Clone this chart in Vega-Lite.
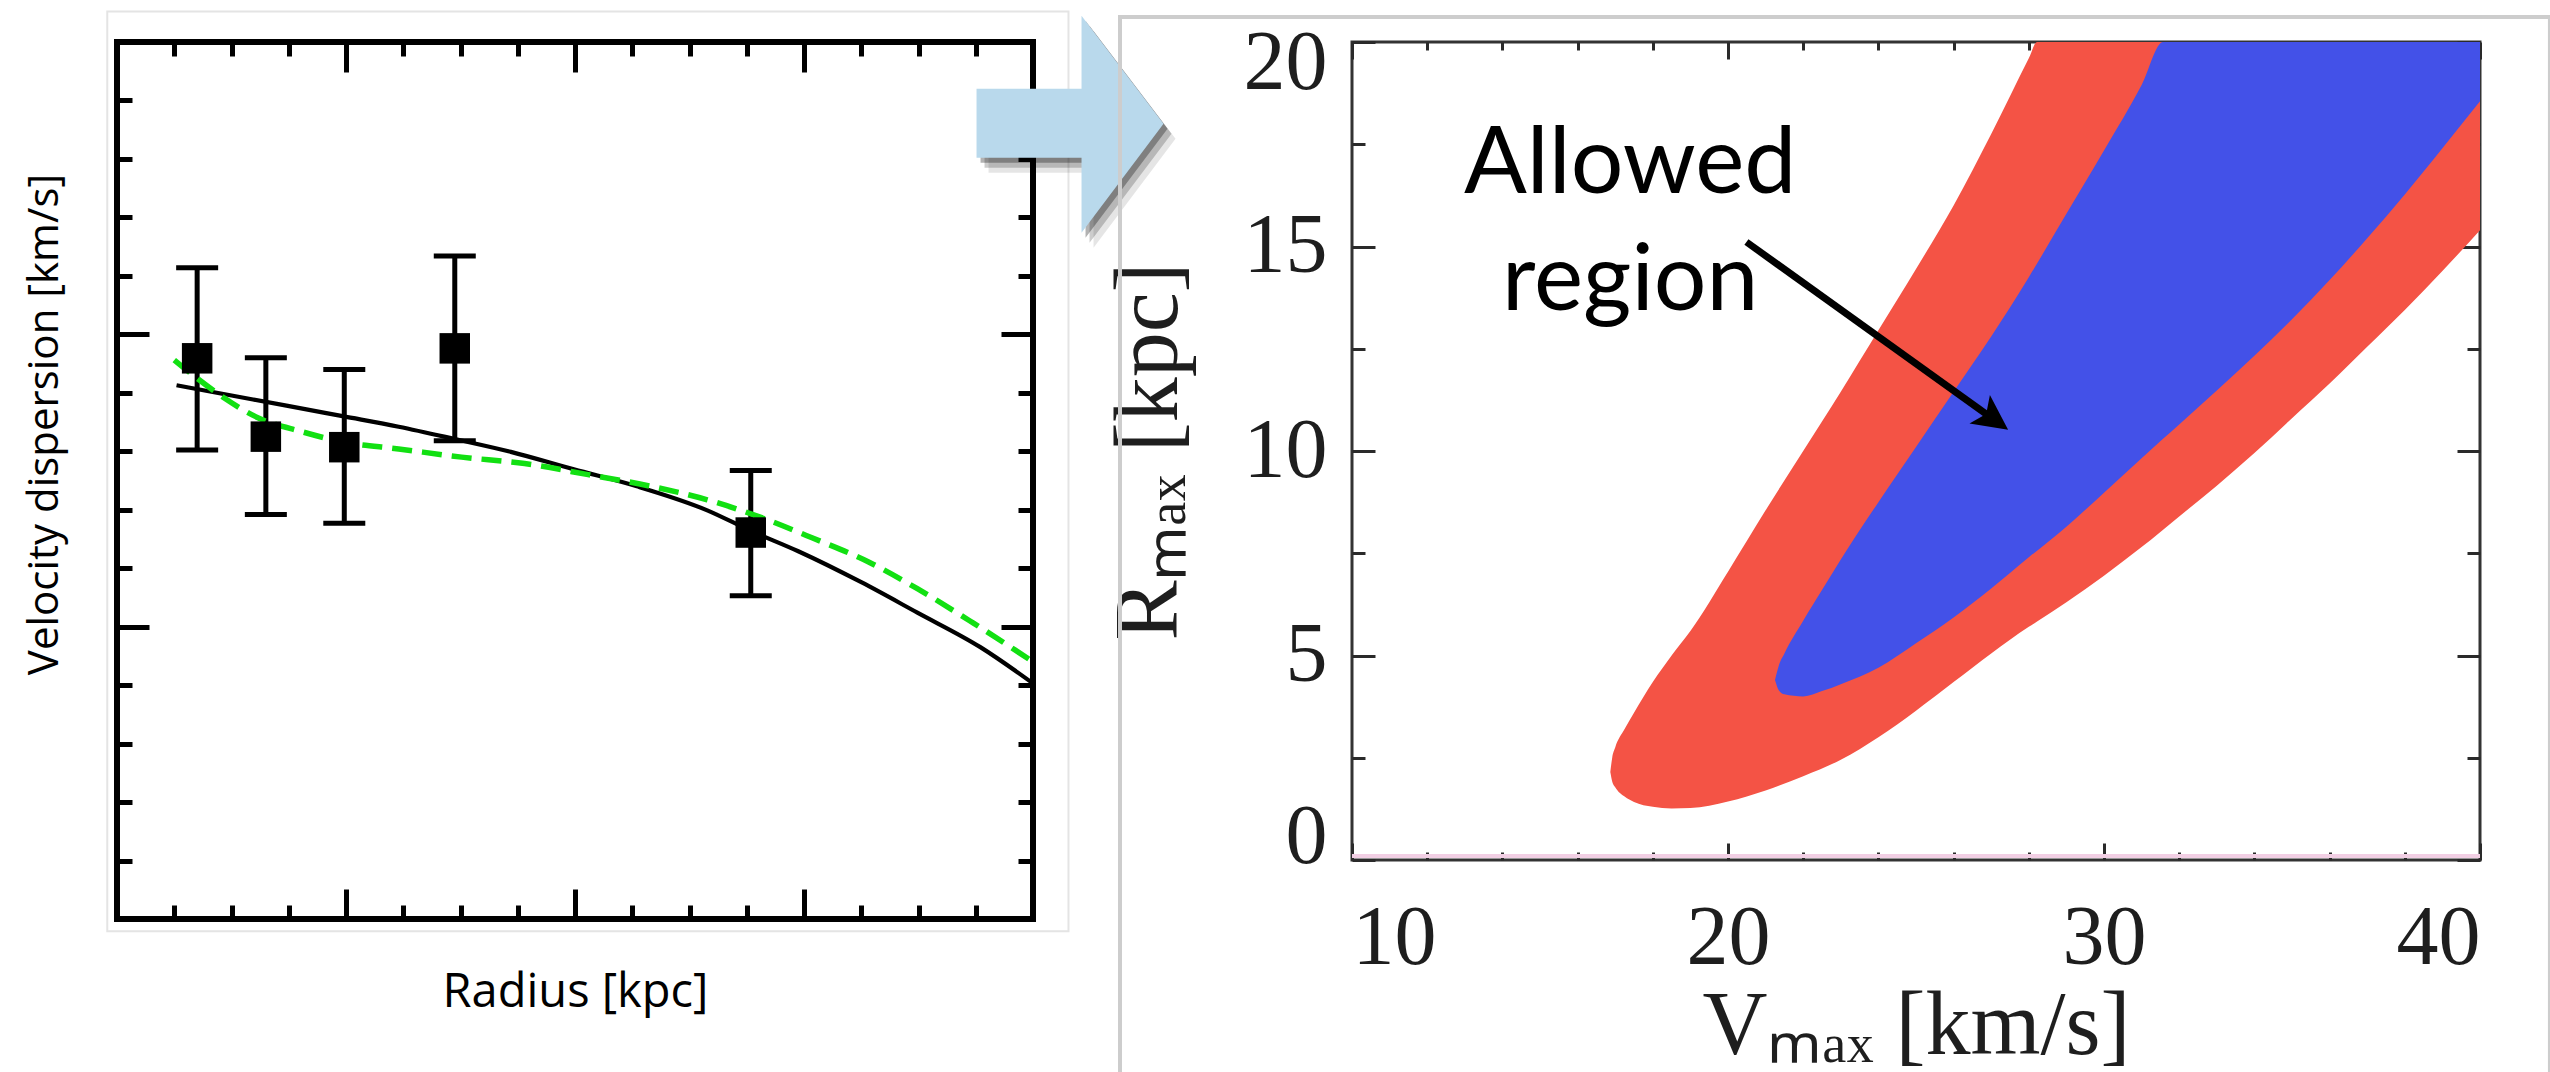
{
  "$schema": "https://vega.github.io/schema/vega-lite/v6.json",
  "background": "white",
  "padding": {"left": 20, "top": 7, "right": 0, "bottom": 0},
  "bounds": "flush",
  "spacing": 319,
  "config": {
    "view": {"stroke": null},
    "axis": {"grid": false, "domain": false, "labelOverlap": false}
  },
  "datasets": {
    "pts": [
      {"r": 1.40, "v": 9.59, "lo": 8.02, "hi": 11.14},
      {"r": 2.60, "v": 8.25, "lo": 6.92, "hi": 9.60},
      {"r": 3.97, "v": 8.07, "lo": 6.77, "hi": 9.40},
      {"r": 5.90, "v": 9.76, "lo": 8.18, "hi": 11.34},
      {"r": 11.07, "v": 6.61, "lo": 5.53, "hi": 7.67}
    ],
    "fit": [
      {"r": 1.04, "v": 9.13}, {"r": 1.86, "v": 8.98}, {"r": 2.96, "v": 8.78}, {"r": 3.94, "v": 8.60},
      {"r": 4.92, "v": 8.42}, {"r": 5.90, "v": 8.21}, {"r": 6.88, "v": 7.99}, {"r": 7.98, "v": 7.69},
      {"r": 9.08, "v": 7.40}, {"r": 10.31, "v": 6.99}, {"r": 11.07, "v": 6.64}, {"r": 11.90, "v": 6.29},
      {"r": 13.00, "v": 5.76}, {"r": 13.98, "v": 5.24}, {"r": 15.08, "v": 4.65}, {"r": 16.0, "v": 4.03}
    ],
    "alt": [
      {"r": 1.00, "v": 9.56}, {"r": 1.37, "v": 9.27}, {"r": 1.86, "v": 8.92}, {"r": 2.47, "v": 8.57},
      {"r": 3.21, "v": 8.34}, {"r": 3.94, "v": 8.16}, {"r": 4.92, "v": 8.04}, {"r": 6.02, "v": 7.90},
      {"r": 7.12, "v": 7.79}, {"r": 8.23, "v": 7.60}, {"r": 9.33, "v": 7.40}, {"r": 10.31, "v": 7.17},
      {"r": 11.16, "v": 6.90}, {"r": 12.14, "v": 6.52}, {"r": 13.12, "v": 6.11}, {"r": 13.98, "v": 5.65},
      {"r": 14.96, "v": 5.06}, {"r": 16.0, "v": 4.40}
    ],
    "leftframe": [{"x1": -0.17, "x2": 16.62, "y1": -0.21, "y2": 15.52}],
    "bigarrow": [{"X": 18.28, "Y": 13.60}],
    "outer": [
      {"V": 16.87, "lo": 2.15, "hi": 2.15},
      {"V": 16.92, "lo": 1.92, "hi": 2.5},
      {"V": 17.0, "lo": 1.78, "hi": 2.75},
      {"V": 17.25, "lo": 1.55, "hi": 3.2},
      {"V": 17.5, "lo": 1.42, "hi": 3.6},
      {"V": 18.0, "lo": 1.3, "hi": 4.35},
      {"V": 18.5, "lo": 1.26, "hi": 5.0},
      {"V": 19.0, "lo": 1.27, "hi": 5.6},
      {"V": 20.0, "lo": 1.43, "hi": 7.05},
      {"V": 21.0, "lo": 1.7, "hi": 8.55},
      {"V": 22.0, "lo": 2.05, "hi": 10.0},
      {"V": 23.0, "lo": 2.45, "hi": 11.45},
      {"V": 24.0, "lo": 3.0, "hi": 12.95},
      {"V": 25.0, "lo": 3.65, "hi": 14.45},
      {"V": 26.0, "lo": 4.35, "hi": 16.0},
      {"V": 27.0, "lo": 5.05, "hi": 17.75},
      {"V": 28.0, "lo": 5.7, "hi": 19.6},
      {"V": 28.22, "lo": 5.83, "hi": 20},
      {"V": 29.0, "lo": 6.3, "hi": 20},
      {"V": 30.0, "lo": 6.95, "hi": 20},
      {"V": 31.0, "lo": 7.65, "hi": 20},
      {"V": 32.0, "lo": 8.4, "hi": 20},
      {"V": 33.0, "lo": 9.15, "hi": 20},
      {"V": 34.0, "lo": 9.95, "hi": 20},
      {"V": 35.0, "lo": 10.8, "hi": 20},
      {"V": 36.0, "lo": 11.65, "hi": 20},
      {"V": 37.0, "lo": 12.55, "hi": 20},
      {"V": 38.0, "lo": 13.45, "hi": 20},
      {"V": 39.0, "lo": 14.4, "hi": 20},
      {"V": 40.0, "lo": 15.4, "hi": 20}
    ],
    "inner": [
      {"V": 21.25, "lo": 4.4, "hi": 4.4},
      {"V": 21.35, "lo": 4.15, "hi": 4.75},
      {"V": 21.5, "lo": 4.05, "hi": 5.05},
      {"V": 22.0, "lo": 4.0, "hi": 5.85},
      {"V": 22.5, "lo": 4.13, "hi": 6.6},
      {"V": 23.0, "lo": 4.3, "hi": 7.35},
      {"V": 24.0, "lo": 4.7, "hi": 8.75},
      {"V": 25.0, "lo": 5.3, "hi": 10.1},
      {"V": 26.0, "lo": 5.93, "hi": 11.45},
      {"V": 27.0, "lo": 6.64, "hi": 12.8},
      {"V": 28.0, "lo": 7.4, "hi": 14.25},
      {"V": 29.0, "lo": 8.15, "hi": 15.8},
      {"V": 30.0, "lo": 8.98, "hi": 17.35},
      {"V": 31.0, "lo": 9.82, "hi": 18.95},
      {"V": 31.57, "lo": 10.3, "hi": 20},
      {"V": 32.0, "lo": 10.65, "hi": 20},
      {"V": 33.0, "lo": 11.48, "hi": 20},
      {"V": 34.0, "lo": 12.33, "hi": 20},
      {"V": 35.0, "lo": 13.22, "hi": 20},
      {"V": 36.0, "lo": 14.18, "hi": 20},
      {"V": 37.0, "lo": 15.2, "hi": 20},
      {"V": 38.0, "lo": 16.27, "hi": 20},
      {"V": 39.0, "lo": 17.4, "hi": 20},
      {"V": 40.0, "lo": 18.55, "hi": 20}
    ],
    "card": [{"a": 3.83, "b": 41.86, "c": -6, "d": 20.61}],
    "label": [{"V": 17.4, "R": 16.31, "t": "Allowed\nregion"}],
    "pointer": [{"V": 20.49, "R": 15.11, "V2": 27.13, "R2": 10.73}],
    "pointerhead": [{"V": 27.45, "R": 10.52}],
    "zeroline": [{"R": 0.1}]
  },
  "hconcat": [
    {
      "width": 916,
      "height": 877,
      "view": {"stroke": "#000000", "strokeWidth": 6},
      "resolve": {"axis": {"x": "independent", "y": "independent"}},
      "layer": [
        {
          "data": {"name": "pts"},
          "mark": {"type": "rule", "strokeWidth": 5, "color": "#000000"},
          "encoding": {
            "x": {"field": "r", "type": "quantitative",
              "scale": {"domain": [0, 16], "nice": false, "zero": false},
              "axis": {"orient": "bottom", "values": [0,1,2,3,4,5,6,7,8,9,10,11,12,13,14,15,16],
                "labels": false, "tickColor": "#000000", "tickWidth": 5,
                "tickSize": {"condition": {"test": "datum.value % 4 === 0", "value": -30}, "value": -14},
                "title": "Radius [kpc]", "titleFont": "Open Sans", "titleFontSize": 47,
                "titleFontWeight": "normal", "titleColor": "#000000", "titlePadding": 48}},
            "y": {"field": "lo", "type": "quantitative",
              "scale": {"domain": [0, 15], "nice": false, "zero": false},
              "axis": {"orient": "left", "values": [0,1,2,3,4,5,6,7,8,9,10,11,12,13,14,15],
                "labels": false, "tickColor": "#000000", "tickWidth": 5,
                "tickSize": {"condition": {"test": "datum.value % 5 === 0", "value": -32}, "value": -15},
                "title": "Velocity dispersion [km/s]", "titleFont": "Open Sans", "titleFontSize": 42,
                "titleFontWeight": "normal", "titleColor": "#000000", "titlePadding": 48, "titleY": 382}},
            "y2": {"field": "hi"}
          }
        },
        {
          "data": {"name": "pts"},
          "mark": {"type": "tick", "orient": "horizontal", "size": 42, "thickness": 5, "color": "#000000", "opacity": 1},
          "encoding": {
            "x": {"field": "r", "type": "quantitative",
              "scale": {"domain": [0, 16], "nice": false, "zero": false},
              "axis": {"orient": "top", "values": [0,1,2,3,4,5,6,7,8,9,10,11,12,13,14,15,16],
                "labels": false, "tickColor": "#000000", "tickWidth": 5,
                "tickSize": {"condition": {"test": "datum.value % 4 === 0", "value": -30}, "value": -14},
                "title": null}},
            "y": {"field": "hi", "type": "quantitative",
              "scale": {"domain": [0, 15], "nice": false, "zero": false},
              "axis": {"orient": "right", "values": [0,1,2,3,4,5,6,7,8,9,10,11,12,13,14,15],
                "labels": false, "tickColor": "#000000", "tickWidth": 5,
                "tickSize": {"condition": {"test": "datum.value % 5 === 0", "value": -32}, "value": -15},
                "title": null}}
          }
        },
        {
          "data": {"name": "pts"},
          "mark": {"type": "tick", "orient": "horizontal", "size": 42, "thickness": 5, "color": "#000000", "opacity": 1},
          "encoding": {
            "x": {"field": "r", "type": "quantitative", "scale": {"domain": [0, 16], "nice": false, "zero": false}, "axis": null},
            "y": {"field": "lo", "type": "quantitative", "scale": {"domain": [0, 15], "nice": false, "zero": false}, "axis": null}
          }
        },
        {
          "data": {"name": "fit"},
          "mark": {"type": "line", "color": "#000000", "strokeWidth": 4.2, "interpolate": "monotone"},
          "encoding": {
            "x": {"field": "r", "type": "quantitative", "scale": {"domain": [0, 16], "nice": false, "zero": false}, "axis": null},
            "y": {"field": "v", "type": "quantitative", "scale": {"domain": [0, 15], "nice": false, "zero": false}, "axis": null}
          }
        },
        {
          "data": {"name": "alt"},
          "mark": {"type": "line", "color": "#12e012", "strokeWidth": 5.5, "strokeDash": [20, 10], "interpolate": "monotone"},
          "encoding": {
            "x": {"field": "r", "type": "quantitative", "scale": {"domain": [0, 16], "nice": false, "zero": false}, "axis": null},
            "y": {"field": "v", "type": "quantitative", "scale": {"domain": [0, 15], "nice": false, "zero": false}, "axis": null}
          }
        },
        {
          "data": {"name": "pts"},
          "mark": {"type": "point", "shape": "square", "filled": true, "size": 930, "color": "#000000", "opacity": 1},
          "encoding": {
            "x": {"field": "r", "type": "quantitative", "scale": {"domain": [0, 16], "nice": false, "zero": false}, "axis": null},
            "y": {"field": "v", "type": "quantitative", "scale": {"domain": [0, 15], "nice": false, "zero": false}, "axis": null}
          }
        },
        {
          "data": {"name": "leftframe"},
          "mark": {"type": "rect", "filled": false, "stroke": "#e4e4e4", "strokeWidth": 2},
          "encoding": {
            "x": {"field": "x1", "type": "quantitative", "scale": {"domain": [0, 16], "nice": false, "zero": false}, "axis": null},
            "x2": {"field": "x2"},
            "y": {"field": "y1", "type": "quantitative", "scale": {"domain": [0, 15], "nice": false, "zero": false}, "axis": null},
            "y2": {"field": "y2"}
          }
        },
        {
          "data": {"name": "bigarrow"},
          "mark": {"type": "point", "filled": true, "size": 400, "color": "#000000", "opacity": 0.1, "xOffset": 12, "yOffset": 15,
            "shape": "M0,0 L-8.2,-10.8 L-8.2,-3.5 L-18.7,-3.5 L-18.7,3.4 L-8.2,3.4 L-8.2,10.9 Z"},
          "encoding": {
            "x": {"field": "X", "type": "quantitative", "scale": {"domain": [0, 16], "nice": false, "zero": false}, "axis": null},
            "y": {"field": "Y", "type": "quantitative", "scale": {"domain": [0, 15], "nice": false, "zero": false}, "axis": null}
          }
        },
        {
          "data": {"name": "bigarrow"},
          "mark": {"type": "point", "filled": true, "size": 400, "color": "#000000", "opacity": 0.2, "xOffset": 8, "yOffset": 10,
            "shape": "M0,0 L-8.2,-10.8 L-8.2,-3.5 L-18.7,-3.5 L-18.7,3.4 L-8.2,3.4 L-8.2,10.9 Z"},
          "encoding": {
            "x": {"field": "X", "type": "quantitative", "scale": {"domain": [0, 16], "nice": false, "zero": false}, "axis": null},
            "y": {"field": "Y", "type": "quantitative", "scale": {"domain": [0, 15], "nice": false, "zero": false}, "axis": null}
          }
        },
        {
          "data": {"name": "bigarrow"},
          "mark": {"type": "point", "filled": true, "size": 400, "color": "#000000", "opacity": 0.3, "xOffset": 4, "yOffset": 5,
            "shape": "M0,0 L-8.2,-10.8 L-8.2,-3.5 L-18.7,-3.5 L-18.7,3.4 L-8.2,3.4 L-8.2,10.9 Z"},
          "encoding": {
            "x": {"field": "X", "type": "quantitative", "scale": {"domain": [0, 16], "nice": false, "zero": false}, "axis": null},
            "y": {"field": "Y", "type": "quantitative", "scale": {"domain": [0, 15], "nice": false, "zero": false}, "axis": null}
          }
        },
        {
          "data": {"name": "bigarrow"},
          "mark": {"type": "point", "filled": true, "size": 400, "color": "#b9d9ec", "opacity": 1,
            "shape": "M0,0 L-8.2,-10.8 L-8.2,-3.5 L-18.7,-3.5 L-18.7,3.4 L-8.2,3.4 L-8.2,10.9 Z"},
          "encoding": {
            "x": {"field": "X", "type": "quantitative", "scale": {"domain": [0, 16], "nice": false, "zero": false}, "axis": null},
            "y": {"field": "Y", "type": "quantitative", "scale": {"domain": [0, 15], "nice": false, "zero": false}, "axis": null}
          }
        }
      ]
    },
    {
      "width": 1128,
      "height": 818,
      "view": {"stroke": "#333333", "strokeWidth": 3},
      "resolve": {"axis": {"x": "independent", "y": "independent"}},
      "layer": [
        {
          "data": {"name": "card"},
          "mark": {"type": "rect", "filled": false, "stroke": "#cdcdcd", "strokeWidth": 4},
          "encoding": {
            "x": {"field": "a", "type": "quantitative", "scale": {"domain": [10, 40], "nice": false, "zero": false}, "axis": null},
            "x2": {"field": "b"},
            "y": {"field": "c", "type": "quantitative", "scale": {"domain": [0, 20], "nice": false, "zero": false}, "axis": null},
            "y2": {"field": "d"}
          }
        },
        {
          "data": {"name": "outer"},
          "mark": {"type": "area", "interpolate": "monotone", "color": "#f45345", "opacity": 1},
          "encoding": {
            "x": {"field": "V", "type": "quantitative",
              "scale": {"domain": [10, 40], "nice": false, "zero": false},
              "axis": {"orient": "bottom", "values": [10, 20, 30, 40], "ticks": false,
                "labelFont": "Liberation Serif", "labelFontSize": 84, "labelColor": "#1e1e1e", "labelPadding": 37,
                "title": "Vₘₐₓ [km/s]", "titleFont": "Liberation Serif", "titleFontSize": 90,
                "titleFontWeight": "normal", "titleColor": "#1e1e1e", "titlePadding": 2}},
            "y": {"field": "lo", "type": "quantitative",
              "scale": {"domain": [0, 20], "nice": false, "zero": false},
              "axis": {"orient": "left", "values": [0, 5, 10, 15, 20], "ticks": false,
                "labelFont": "Liberation Serif", "labelFontSize": 84, "labelColor": "#1e1e1e", "labelPadding": 25,
                "labelFlush": true, "labelFlushOffset": 20,
                "title": "Rₘₐₓ [kpc]", "titleFont": "Liberation Serif", "titleFontSize": 90,
                "titleFontWeight": "normal", "titleColor": "#1e1e1e", "titlePadding": 48}},
            "y2": {"field": "hi"}
          }
        },
        {
          "data": {"name": "inner"},
          "mark": {"type": "area", "interpolate": "monotone", "color": "#4351e8", "opacity": 1},
          "encoding": {
            "x": {"field": "V", "type": "quantitative",
              "scale": {"domain": [10, 40], "nice": false, "zero": false},
              "axis": {"orient": "bottom", "values": [10,12,14,16,18,20,22,24,26,28,30,32,34,36,38,40],
                "labels": false, "tickColor": "#2a2a2a", "tickWidth": 3,
                "tickSize": {"condition": {"test": "datum.value % 10 === 0", "value": -17}, "value": -8},
                "title": null}},
            "y": {"field": "lo", "type": "quantitative",
              "scale": {"domain": [0, 20], "nice": false, "zero": false},
              "axis": {"orient": "left", "values": [0, 2.5, 5, 7.5, 10, 12.5, 15, 17.5, 20],
                "labels": false, "tickColor": "#2a2a2a", "tickWidth": 3,
                "tickSize": {"condition": {"test": "datum.value % 5 === 0", "value": -23}, "value": -13},
                "title": null}},
            "y2": {"field": "hi"}
          }
        },
        {
          "data": {"name": "zeroline"},
          "mark": {"type": "rule", "color": "#f2cfe4", "strokeWidth": 4},
          "encoding": {
            "y": {"field": "R", "type": "quantitative", "scale": {"domain": [0, 20], "nice": false, "zero": false}, "axis": null}
          }
        },
        {
          "data": {"name": "label"},
          "mark": {"type": "text", "font": "Lato", "fontSize": 93, "align": "center", "baseline": "alphabetic",
            "lineBreak": "\n", "lineHeight": 117, "color": "#000000"},
          "encoding": {
            "x": {"field": "V", "type": "quantitative",
              "scale": {"domain": [10, 40], "nice": false, "zero": false},
              "axis": {"orient": "top", "values": [10,12,14,16,18,20,22,24,26,28,30,32,34,36,38,40],
                "labels": false, "tickColor": "#2a2a2a", "tickWidth": 3,
                "tickSize": {"condition": {"test": "datum.value % 10 === 0", "value": -17}, "value": -8},
                "title": null}},
            "y": {"field": "R", "type": "quantitative",
              "scale": {"domain": [0, 20], "nice": false, "zero": false},
              "axis": {"orient": "right", "values": [0, 2.5, 5, 7.5, 10, 12.5, 15, 17.5, 20],
                "labels": false, "tickColor": "#2a2a2a", "tickWidth": 3,
                "tickSize": {"condition": {"test": "datum.value % 5 === 0", "value": -23}, "value": -13},
                "title": null}},
            "text": {"field": "t"}
          }
        },
        {
          "data": {"name": "pointer"},
          "mark": {"type": "rule", "color": "#000000", "strokeWidth": 7},
          "encoding": {
            "x": {"field": "V", "type": "quantitative", "scale": {"domain": [10, 40], "nice": false, "zero": false}, "axis": null},
            "x2": {"field": "V2"},
            "y": {"field": "R", "type": "quantitative", "scale": {"domain": [0, 20], "nice": false, "zero": false}, "axis": null},
            "y2": {"field": "R2"}
          }
        },
        {
          "data": {"name": "pointerhead"},
          "mark": {"type": "point", "filled": true, "size": 400, "color": "#000000", "opacity": 1, "angle": 35.7,
            "shape": "M0,0 L-3.5,-1.75 L-2.7,0 L-3.5,1.75 Z"},
          "encoding": {
            "x": {"field": "V", "type": "quantitative", "scale": {"domain": [10, 40], "nice": false, "zero": false}, "axis": null},
            "y": {"field": "R", "type": "quantitative", "scale": {"domain": [0, 20], "nice": false, "zero": false}, "axis": null}
          }
        }
      ]
    }
  ]
}
